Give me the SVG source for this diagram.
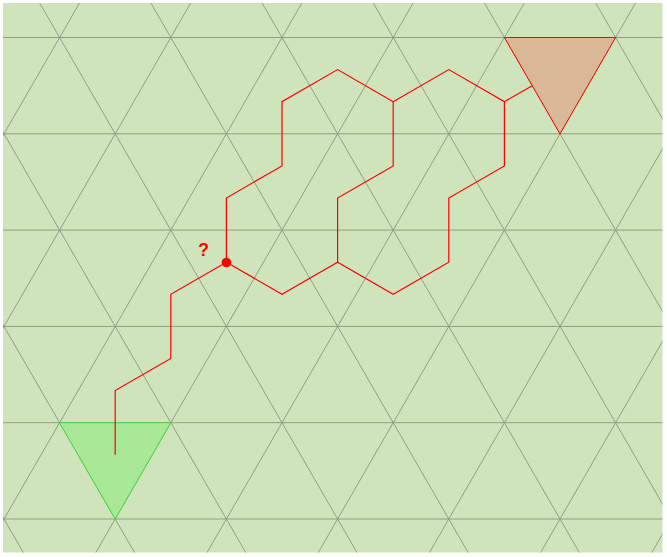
<svg xmlns="http://www.w3.org/2000/svg" width="667" height="557" viewBox="0 0 667 557">
<defs>
<clipPath id="bg"><rect x="3" y="3" width="659.5" height="549.5"/></clipPath>
<style>
.grid line{stroke:#8e9e86;stroke-width:1;fill:none}
.path{stroke:#ff0000;stroke-width:1.2;fill:none;stroke-linejoin:miter}
.q{font-family:"Liberation Sans",Arial,sans-serif;font-weight:bold;font-size:17.5px;fill:#ff0000}
</style>
</defs>
<rect width="667" height="557" fill="#ffffff"/>
<rect x="3" y="3" width="659.5" height="549.5" fill="#d0e4bc"/>
<g class="grid" clip-path="url(#bg)">
<line x1="0" y1="37.5" x2="667" y2="37.5"/>
<line x1="0" y1="133.8" x2="667" y2="133.8"/>
<line x1="0" y1="230.1" x2="667" y2="230.1"/>
<line x1="0" y1="326.4" x2="667" y2="326.4"/>
<line x1="0" y1="422.7" x2="667" y2="422.7"/>
<line x1="0" y1="519" x2="667" y2="519"/>
<line x1="81.25" y1="0" x2="-242.07" y2="560"/>
<line x1="192.45" y1="0" x2="-130.87" y2="560"/>
<line x1="303.65" y1="0" x2="-19.67" y2="560"/>
<line x1="414.85" y1="0" x2="91.53" y2="560"/>
<line x1="526.05" y1="0" x2="202.73" y2="560"/>
<line x1="637.25" y1="0" x2="313.93" y2="560"/>
<line x1="748.45" y1="0" x2="425.13" y2="560"/>
<line x1="859.65" y1="0" x2="536.33" y2="560"/>
<line x1="970.85" y1="0" x2="647.53" y2="560"/>
<line x1="-295.65" y1="0" x2="27.67" y2="560"/>
<line x1="-184.45" y1="0" x2="138.87" y2="560"/>
<line x1="-73.25" y1="0" x2="250.07" y2="560"/>
<line x1="37.95" y1="0" x2="361.27" y2="560"/>
<line x1="149.15" y1="0" x2="472.47" y2="560"/>
<line x1="260.35" y1="0" x2="583.67" y2="560"/>
<line x1="371.55" y1="0" x2="694.87" y2="560"/>
<line x1="482.75" y1="0" x2="806.07" y2="560"/>
<line x1="593.95" y1="0" x2="917.27" y2="560"/>
</g>
<g id="start">
<polygon points="59.4,422.7 170.8,422.7 115.2,519" fill="#a8e896" stroke="#3cdc3c" stroke-width="1"/>
</g>
<g id="connectors">
<polyline class="path" points="115.2,454.8 115.2,390.6 170.8,358.5 170.8,294.3 226.4,262.2"/>
<polyline class="path" points="226.4,262.2 226.4,198 282,165.9 282,101.7 337.6,69.6 393.2,101.7"/>
<polyline class="path" points="393.2,101.7 393.2,165.9 337.6,198 337.6,262.2"/>
<polyline class="path" points="393.2,101.7 448.8,69.6 504.4,101.7 504.4,165.9 448.8,198 448.8,262.2 393.2,294.3 337.6,262.2 282,294.3 226.4,262.2"/>
<polyline class="path" points="504.4,101.7 532.2,85.65"/>
</g>
<g id="goal">
<polygon points="504.4,37.5 615.6,37.5 560,133.8" fill="#d8b896" stroke="#ff0000" stroke-width="1"/>
</g>
<g id="current">
<circle cx="226.4" cy="262.5" r="4.8" fill="#ff0000"/>
<text class="q" x="203.5" y="255.8" text-anchor="middle">?</text>
</g>
</svg>
